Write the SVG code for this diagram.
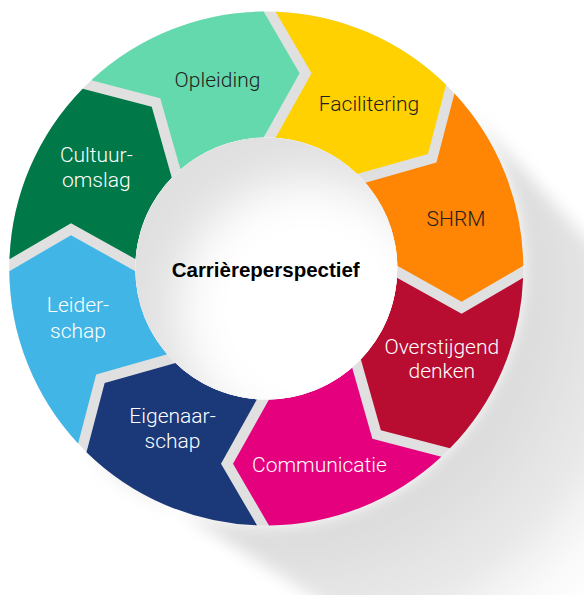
<svg xmlns="http://www.w3.org/2000/svg" width="584" height="595" viewBox="0 0 584 595">
<defs>
<style>
.lbl{font-family:Roboto,"Liberation Sans",Arial,sans-serif;font-weight:300;font-size:21px;text-anchor:middle}
.dark{fill:#231f20}
.light{fill:#ffffff}
.title{font-family:"Liberation Sans",Arial,sans-serif;font-weight:700;font-size:20.5px;text-anchor:middle;fill:#000000}
</style>
<path id="seg" d="M9.3,-256.83 A257,257 0 0 1 179.81,-183.63 L161.65,-114.55 L90.7,-94.52 A131,131 0 0 0 9.3,-130.67 L45.3,-195.3 Z"/>
<radialGradient id="shadowGrad" gradientUnits="userSpaceOnUse" cx="290" cy="290" r="450">
<stop offset="0.5" stop-color="#d9d9d9"/>
<stop offset="0.75" stop-color="#e6e6e6" stop-opacity="0.85"/>
<stop offset="1" stop-color="#ffffff" stop-opacity="0"/>
</radialGradient>
<filter id="soft" x="-20%" y="-20%" width="140%" height="140%"><feGaussianBlur stdDeviation="8"/></filter>
<filter id="blur2" x="-50%" y="-50%" width="200%" height="200%"><feGaussianBlur stdDeviation="24"/></filter>
<clipPath id="holeClip"><circle cx="266.3" cy="268.5" r="131"/></clipPath>
</defs>

<g id="shadow">
<path d="M448,86.8 L760,430 L760,800 L500,716 L84.6,450.2 A257,257 0 0 0 448,450.2 A257,257 0 0 0 448,86.8 Z" fill="url(#shadowGrad)" filter="url(#soft)"/>
<circle cx="266.3" cy="268.5" r="194" fill="none" stroke="#e0e0e0" stroke-width="126"/>
</g>

<g id="connectors"></g>

<g transform="translate(266.3,268.5)">
<g id="opleiding"><use href="#seg" transform="rotate(315)" fill="#64d9ae"/></g>
<g id="facilitering"><use href="#seg" fill="#ffd100"/></g>
<g id="shrm"><use href="#seg" transform="rotate(45)" fill="#ff8505"/></g>
<g id="overstijgend"><use href="#seg" transform="rotate(90)" fill="#b80d30"/></g>
<g id="communicatie"><use href="#seg" transform="rotate(135)" fill="#e5007e"/></g>
<g id="eigenaarschap"><use href="#seg" transform="rotate(180)" fill="#1b3878"/></g>
<g id="leiderschap"><use href="#seg" transform="rotate(225)" fill="#41b6e6"/></g>
<g id="cultuuromslag"><use href="#seg" transform="rotate(270)" fill="#007848"/></g>
</g>

<g id="labels">
<text class="lbl dark" x="217.5" y="86.5">Opleiding</text>
<text class="lbl dark" x="369" y="111">Facilitering</text>
<text class="lbl dark" x="456" y="225.5">SHRM</text>
<text class="lbl light" x="441.8" y="354">Overstijgend</text>
<text class="lbl light" x="441.8" y="378">denken</text>
<text class="lbl light" x="319.5" y="472">Communicatie</text>
<text class="lbl light" x="172.5" y="423">Eigenaar-</text>
<text class="lbl light" x="172.5" y="448">schap</text>
<text class="lbl light" x="78" y="312">Leider-</text>
<text class="lbl light" x="78" y="338">schap</text>
<text class="lbl light" x="96.3" y="161.5">Cultuur-</text>
<text class="lbl light" x="96.3" y="186.5">omslag</text>
</g>

<g id="center">
<circle cx="266.3" cy="268.5" r="131" fill="#ffffff"/>
<g clip-path="url(#holeClip)">
<rect x="130" y="130" width="275" height="280" fill="#e0e0e0"/>
<circle cx="308" cy="310" r="131" fill="#ffffff" filter="url(#blur2)"/>
</g>
<text class="title" x="265.7" y="277.3">Carrièreperspectief</text>
</g>
</svg>
